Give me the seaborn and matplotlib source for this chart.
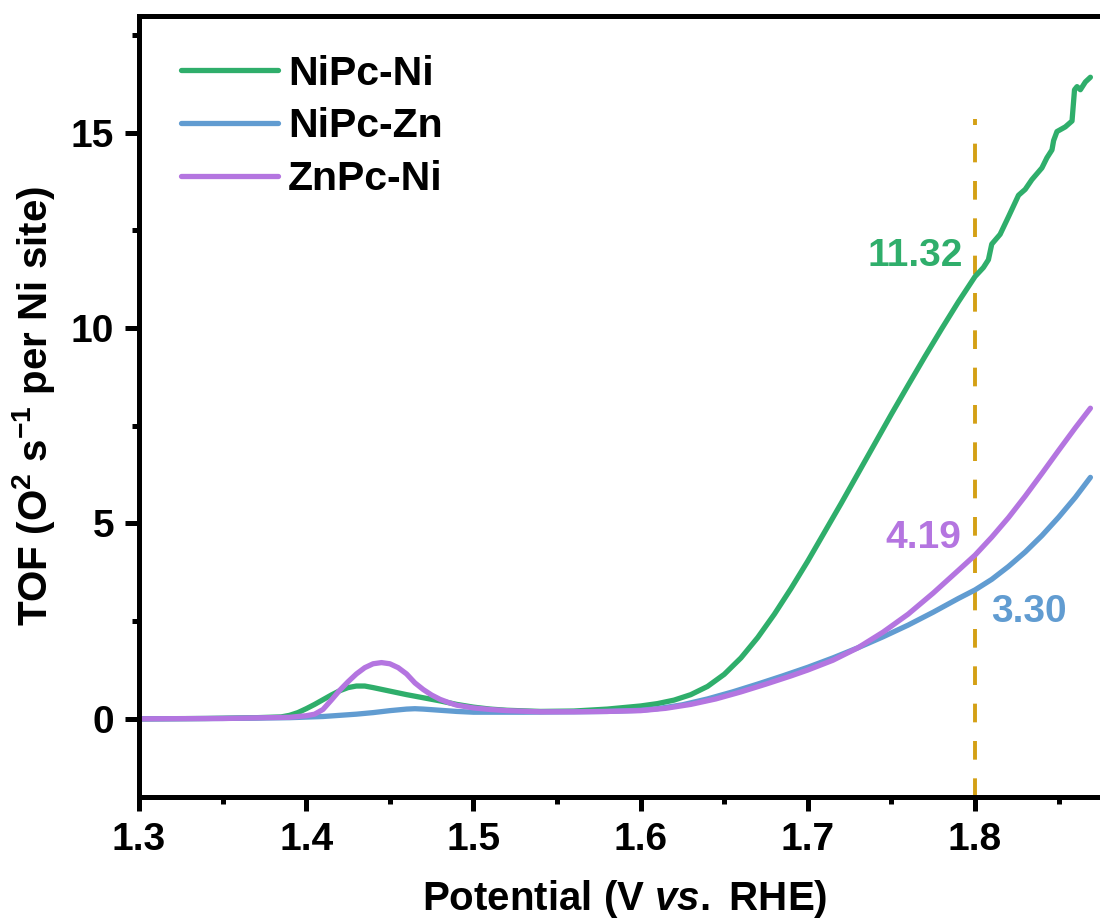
import numpy as np
import pandas as pd
import matplotlib
matplotlib.use("Agg")
import matplotlib.pyplot as plt
import seaborn as sns
from matplotlib.ticker import MultipleLocator
from matplotlib.lines import Line2D

# ---------------- data ----------------
ni_x = [1.300, 1.340, 1.370, 1.385, 1.390, 1.395, 1.400, 1.405, 1.410, 1.415,
        1.420, 1.425, 1.430, 1.435, 1.440, 1.450, 1.460, 1.470, 1.480, 1.490,
        1.500, 1.510, 1.520, 1.540, 1.560, 1.580, 1.600, 1.610, 1.620, 1.630,
        1.640, 1.650, 1.660, 1.670, 1.680, 1.690, 1.700, 1.710, 1.720, 1.730,
        1.740, 1.750, 1.760, 1.770, 1.780, 1.790, 1.800, 1.805, 1.808, 1.810,
        1.815, 1.820, 1.826, 1.830, 1.834, 1.840, 1.843, 1.846, 1.847, 1.849,
        1.854, 1.858, 1.8595, 1.861, 1.863, 1.866, 1.869]
ni_y = [0.00, 0.01, 0.03, 0.05, 0.09, 0.16, 0.26, 0.37, 0.49, 0.61,
        0.72, 0.80, 0.84, 0.84, 0.80, 0.71, 0.62, 0.54, 0.46, 0.37,
        0.30, 0.25, 0.22, 0.19, 0.20, 0.25, 0.33, 0.39, 0.48, 0.62,
        0.83, 1.14, 1.56, 2.08, 2.68, 3.34, 4.04, 4.78, 5.52, 6.28,
        7.04, 7.80, 8.54, 9.27, 9.98, 10.67, 11.32, 11.55, 11.75, 12.15,
        12.40, 12.85, 13.40, 13.55, 13.80, 14.10, 14.36, 14.56, 14.80, 15.03,
        15.15, 15.30, 16.10, 16.18, 16.10, 16.30, 16.42]

zn_x = [1.300, 1.350, 1.390, 1.410, 1.420, 1.430, 1.440, 1.450, 1.460, 1.465,
        1.470, 1.480, 1.490, 1.500, 1.530, 1.560, 1.580, 1.600, 1.610, 1.625,
        1.640, 1.655, 1.670, 1.685, 1.700, 1.715, 1.730, 1.745, 1.760, 1.775,
        1.790, 1.800, 1.810, 1.820, 1.830, 1.840, 1.850, 1.860, 1.869]
zn_y = [0.00, 0.01, 0.03, 0.06, 0.09, 0.12, 0.16, 0.21, 0.25, 0.26,
        0.25, 0.22, 0.19, 0.17, 0.17, 0.18, 0.19, 0.22, 0.26, 0.36,
        0.51, 0.69, 0.89, 1.10, 1.32, 1.56, 1.82, 2.10, 2.40, 2.73,
        3.08, 3.30, 3.57, 3.90, 4.27, 4.69, 5.16, 5.67, 6.18]

znpc_x = [1.300, 1.350, 1.390, 1.400, 1.405, 1.410, 1.415, 1.420, 1.425, 1.430,
          1.435, 1.440, 1.445, 1.450, 1.455, 1.460, 1.465, 1.470, 1.475, 1.480,
          1.485, 1.490, 1.500, 1.510, 1.520, 1.540, 1.560, 1.580, 1.600, 1.615,
          1.630, 1.645, 1.660, 1.675, 1.690, 1.700, 1.715, 1.730, 1.745, 1.760,
          1.775, 1.790, 1.800, 1.810, 1.820, 1.830, 1.840, 1.850, 1.860, 1.869]
znpc_y = [0.00, 0.01, 0.04, 0.08, 0.12, 0.24, 0.48, 0.73, 0.95, 1.15,
          1.31, 1.41, 1.44, 1.41, 1.31, 1.15, 0.92, 0.75, 0.61, 0.50,
          0.42, 0.35, 0.28, 0.24, 0.21, 0.18, 0.18, 0.19, 0.21, 0.27,
          0.37, 0.51, 0.69, 0.89, 1.10, 1.25, 1.50, 1.82, 2.22, 2.68,
          3.22, 3.80, 4.19, 4.65, 5.15, 5.70, 6.28, 6.87, 7.45, 7.95]

series_names = ["NiPc-Ni", "NiPc-Zn", "ZnPc-Ni"]
series_colors = ["#2FAE6B", "#619CD1", "#B475E0"]
marker_x = 1.8
marker_labels = ["11.32", "3.30", "4.19"]
x_ticks = [1.3, 1.4, 1.5, 1.6, 1.7, 1.8]
y_ticks = [0, 5, 10, 15]

# ---------------- style ----------------
sns.set_theme(style="ticks")
plt.rcParams['font.family'] = ['Liberation Sans', 'DejaVu Sans']
plt.rcParams['font.weight'] = 'bold'
plt.rcParams['axes.labelweight'] = 'bold'
plt.rcParams['text.color'] = 'black'
plt.rcParams['axes.labelcolor'] = 'black'
plt.rcParams['mathtext.fontset'] = 'custom'
plt.rcParams['mathtext.rm'] = 'Liberation Sans:bold'
plt.rcParams['mathtext.bf'] = 'Liberation Sans:bold'
plt.rcParams['mathtext.it'] = 'Liberation Sans:italic:bold'
plt.rcParams['mathtext.default'] = 'bf'
for a in ['xtick', 'ytick']:
    plt.rcParams[f'{a}.major.width'] = 3.6
    plt.rcParams[f'{a}.minor.width'] = 3.6
    plt.rcParams[f'{a}.major.size'] = 10
    plt.rcParams[f'{a}.minor.size'] = 5
    plt.rcParams[f'{a}.color'] = 'black'
    plt.rcParams[f'{a}.labelcolor'] = 'black'

df = pd.concat([
    pd.DataFrame({"x": ni_x, "y": ni_y, "s": series_names[0]}),
    pd.DataFrame({"x": zn_x, "y": zn_y, "s": series_names[1]}),
    pd.DataFrame({"x": znpc_x, "y": znpc_y, "s": series_names[2]}),
], ignore_index=True)

fig = plt.figure(figsize=(11, 9.23), dpi=100)
ax = fig.add_axes([0.1264, 0.1365, 0.874, 0.8467])

sns.lineplot(data=df, x="x", y="y", hue="s", palette=series_colors,
             hue_order=series_names, estimator=None, sort=False,
             linewidth=3.8, ax=ax, legend=False)
for ln in ax.get_lines():
    ln.set_solid_capstyle('round')
    ln.set_solid_joinstyle('round')

ax.set_xlim(1.3, 1.875)
ax.set_ylim(-2, 18)

# dashed marker line
vl, = ax.plot([marker_x, marker_x], [-2, 15.35], color="#D4A015", lw=2.8, zorder=1)
vl.set_dashes((4.8, 4.8))

# annotations
fs = 28
ax.text(1.7925, 11.85, marker_labels[0], color=series_colors[0], fontsize=fs,
        fontweight='bold', ha='right', va='center')
ax.text(1.8096, 2.74, marker_labels[1], color=series_colors[1], fontsize=fs,
        fontweight='bold', ha='left', va='center')
ax.text(1.7918, 4.64, marker_labels[2], color=series_colors[2], fontsize=fs,
        fontweight='bold', ha='right', va='center')

# legend
handles = [Line2D([0], [0], color=c, lw=3.8, solid_capstyle='round') for c in series_colors]
ax.legend(handles, series_names, loc='upper left', bbox_to_anchor=(0.044, 0.950),
          frameon=False, handlelength=2.35, handletextpad=0.25,
          labelspacing=0.36, borderpad=0, borderaxespad=0,
          prop={'weight': 'bold', 'size': 29.5})

# axes styling
for sp in ['left', 'bottom', 'top']:
    ax.spines[sp].set_linewidth(3.6)
    ax.spines[sp].set_color('black')
ax.spines['right'].set_visible(False)

ax.set_xticks(x_ticks)
ax.set_yticks(y_ticks)
ax.xaxis.set_minor_locator(MultipleLocator(0.05))
ax.yaxis.set_minor_locator(MultipleLocator(2.5))
ax.set_xticklabels([f"{v:.1f}" for v in x_ticks])
ax.set_yticklabels([str(v) for v in y_ticks])
ax.tick_params(axis='both', which='major', direction='out', length=10, width=3.6,
               labelsize=fs, pad=8, color='black', labelcolor='black',
               top=False, right=False)
ax.tick_params(axis='both', which='minor', direction='out', length=5, width=3.6,
               color='black', top=False, right=False)
for lab in ax.get_xticklabels() + ax.get_yticklabels():
    lab.set_fontweight('bold')

ax.set_xlabel(r"Potential (V $\mathit{vs.}$ RHE)", fontsize=29, fontweight='bold',
              color='black')
ax.set_ylabel(r"TOF (O$^{2}$ s$^{-1}$ per Ni site)", fontsize=29, fontweight='bold',
              color='black')
ax.xaxis.set_label_coords(0.505, -0.103)
ax.yaxis.set_label_coords(-0.085, 0.5)

fig.savefig("out.png", dpi=100)
